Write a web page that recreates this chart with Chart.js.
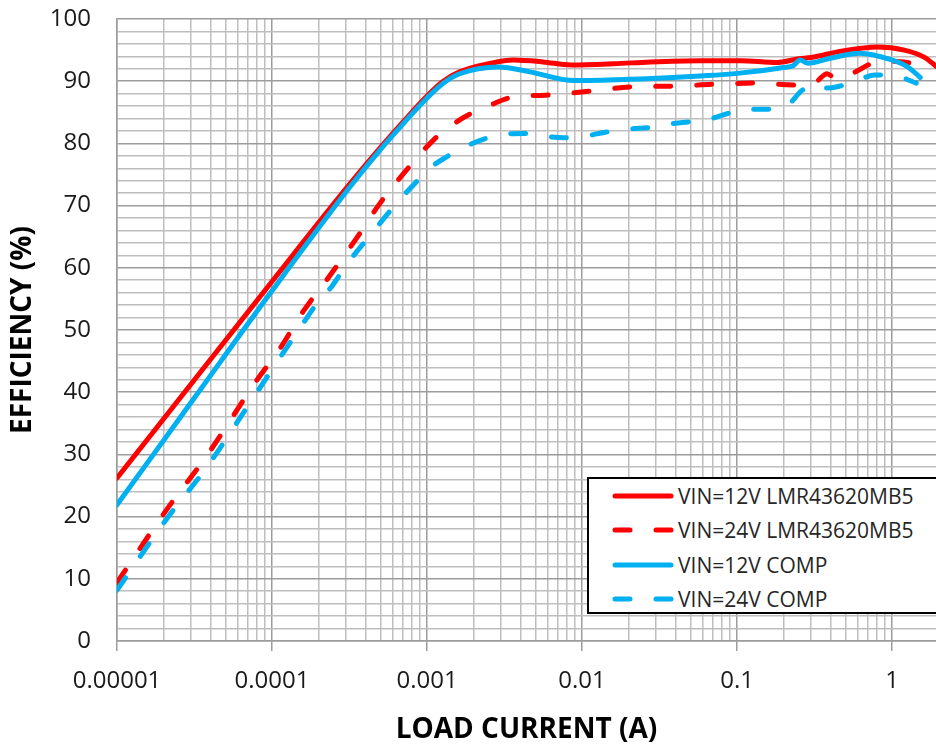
<!DOCTYPE html>
<html lang="en">
<head>
<meta charset="UTF-8">
<title>Efficiency vs Load Current</title>
<script src="https://cdn.jsdelivr.net/npm/chart.js@4"></script>
<style>
  * { box-sizing: border-box; margin: 0; padding: 0; }
  html, body { width: 936px; height: 749px; overflow: hidden; background: #fff; }
  #wrap { position: relative; width: 936px; height: 749px; }
  #legend { position: absolute; left: 587px; top: 477px; width: 370px; height: 137px;
            border: 2px solid #000; background: #fff; font-family: 'Open Sans', sans-serif;
            font-size: 21px; color: #262626; }
  #legend .row { position: absolute; left: 0; height: 30px; display: flex; align-items: center; white-space: nowrap; }
  #legend svg { margin-left: 23px; margin-right: 4px; }
</style>
</head>
<body>
<div id="wrap">
  <canvas id="chart" width="936" height="749"></canvas>
  <div id="legend"></div>
</div>
<script>
// ─── data ────────────────────────────────────────────────────────────────────
const X_MIN = 1e-5;
const X_MAX = 1.92;
const xTickLabels = ['0.00001', '0.0001', '0.001', '0.01', '0.1', '1'];
const xDecades    = [1e-5, 1e-4, 1e-3, 1e-2, 1e-1, 1];
const xMinorSteps = [1, 2, 3, 4, 5, 6, 7, 8, 9];

// VIN=12V LMR43620MB5
const lmr12I   = [1e-5, 3.16e-5, 1e-4, 3.16e-4, 5e-4, 7.1e-4, 1e-3, 1.26e-3, 1.62e-3, 2.5e-3, 3.6e-3, 5.6e-3, 8.5e-3, 0.016, 0.0275, 0.058, 0.105, 0.18, 0.25, 0.3, 0.46, 0.63, 0.8, 1.2, 1.63, 1.92];
const lmr12Eff = [26.2, 42.0, 57.8, 73.4, 79.3, 83.6, 87.6, 89.9, 91.5, 92.8, 93.4, 93.1, 92.6, 92.8, 93.1, 93.3, 93.3, 93.0, 93.6, 93.8, 94.8, 95.3, 95.5, 95.0, 93.8, 92.4];

// VIN=24V LMR43620MB5
const lmr24I   = [1e-5, 2.13e-5, 3.8e-5, 7.76e-5, 1.13e-4, 1.58e-4, 2.37e-4, 3.43e-4, 4.98e-4, 7.53e-4, 1.16e-3, 1.52e-3, 1.89e-3, 2.59e-3, 3.38e-3, 6.22e-3, 0.0114, 0.021, 0.0386, 0.07, 0.133, 0.23, 0.318, 0.381, 0.429, 0.569, 0.733, 1.0, 1.47];
const lmr24Eff = [9.4, 21.4, 29.8, 41.5, 47.1, 52.9, 58.8, 64.4, 70.4, 76.0, 81.1, 83.3, 84.7, 86.2, 87.3, 87.8, 88.4, 89.1, 89.2, 89.5, 89.7, 89.4, 89.8, 91.2, 90.5, 91.4, 92.8, 93.2, 92.8];

// VIN=12V COMP
const comp12I   = [1e-5, 3.16e-5, 1e-4, 3.16e-4, 5e-4, 7.1e-4, 1e-3, 1.26e-3, 1.62e-3, 2.9e-3, 4.6e-3, 8.9e-3, 0.02, 0.0386, 0.104, 0.2, 0.23, 0.255, 0.287, 0.4, 0.62, 0.97, 1.26, 1.52];
const comp12Eff = [21.9, 39.1, 56.3, 72.9, 79.0, 83.3, 87.3, 89.6, 91.2, 92.3, 91.5, 90.1, 90.3, 90.6, 91.3, 92.2, 92.5, 93.4, 92.9, 93.7, 94.5, 93.5, 92.3, 90.6];

// VIN=24V COMP
const comp24I   = [1e-5, 2.13e-5, 3.81e-5, 7.76e-5, 1.58e-4, 1.98e-4, 2.43e-4, 3.03e-4, 3.6e-4, 4.5e-4, 5.5e-4, 6.7e-4, 8.37e-4, 1.04e-3, 1.33e-3, 1.81e-3, 2.33e-3, 3.24e-3, 4.16e-3, 5.94e-3, 7.66e-3, 0.0106, 0.0141, 0.0195, 0.0287, 0.0359, 0.0462, 0.0659, 0.0929, 0.116, 0.156, 0.189, 0.22, 0.262, 0.328, 0.381, 0.442, 0.604, 0.776, 1.08, 1.43];
const comp24Eff = [8.2, 19.9, 28.0, 39.5, 51.0, 54.5, 57.0, 60.5, 62.9, 65.8, 68.5, 71.0, 73.6, 76.0, 77.8, 79.6, 80.7, 81.5, 81.6, 81.1, 80.9, 81.2, 81.8, 82.3, 82.6, 83.1, 83.4, 83.9, 85.0, 85.5, 85.5, 85.6, 86.5, 88.5, 89.5, 88.9, 89.1, 90.2, 91.0, 90.8, 89.7];

const seriesLabels = ['VIN=12V LMR43620MB5', 'VIN=24V LMR43620MB5', 'VIN=12V COMP', 'VIN=24V COMP'];

// ─── styling ─────────────────────────────────────────────────────────────────
const RED  = '#ff0000';
const BLUE = '#00b0f0';
const DASH = [15, 26];
const GRID_MINOR = '#bebebe';
const GRID_MAJOR = '#9c9c9c';
const FONT = "'Open Sans', sans-serif";

const pts = (xs, ys) => xs.map((x, i) => ({ x, y: ys[i] }));

function series(label, xs, ys, color, dashed, order) {
  return {
    label,
    data: pts(xs, ys),
    borderColor: color,
    backgroundColor: color,
    borderWidth: 5,
    borderDash: dashed ? DASH : [],
    borderCapStyle: 'round',
    borderJoinStyle: 'round',
    pointRadius: 0,
    cubicInterpolationMode: 'monotone',
    fill: false,
    order,
  };
}

const datasets = [
  series(seriesLabels[0], lmr12I,  lmr12Eff,  RED,  false, 3),
  series(seriesLabels[1], lmr24I,  lmr24Eff,  RED,  true,  2),
  series(seriesLabels[2], comp12I, comp12Eff, BLUE, false, 1),
  series(seriesLabels[3], comp24I, comp24Eff, BLUE, true,  0),
];

new Chart(document.getElementById('chart'), {
  type: 'line',
  data: { datasets },
  options: {
    responsive: false,
    devicePixelRatio: 1,
    animation: false,
    layout: { padding: { top: 19, left: 0, right: 0, bottom: 0 } },
    plugins: { legend: { display: false }, tooltip: { enabled: false } },
    scales: {
      x: {
        type: 'logarithmic',
        min: X_MIN,
        max: X_MAX,
        afterBuildTicks: (scale) => {
          const ticks = [];
          xDecades.forEach(d => xMinorSteps.forEach(m => {
            const v = +(d * m).toPrecision(3);
            if (v <= X_MAX) ticks.push({ value: v, major: m === 1 });
          }));
          scale.ticks = ticks;
        },
        afterFit: (scale) => { scale.height = 108; scale.paddingRight = 0; },
        ticks: {
          autoSkip: false,
          maxRotation: 0,
          padding: 16,
          color: '#1a1a1a',
          font: { family: FONT, size: 24 },
          callback: (value, i, ticks) => ticks[i].major
            ? xTickLabels[xDecades.findIndex(d => Math.abs(Math.log10(d) - Math.log10(value)) < 1e-6)]
            : '',
        },
        grid: {
          color: (ctx) => ctx.tick && ctx.tick.major ? GRID_MAJOR : GRID_MINOR,
          lineWidth: 1.5,
          tickLength: 10,
          tickColor: (ctx) => ctx.tick && ctx.tick.major ? GRID_MAJOR : 'rgba(0,0,0,0)',
        },
        border: { color: GRID_MAJOR, width: 1.5 },
        title: {
          display: true,
          text: 'LOAD CURRENT (A)',
          color: '#000',
          font: { family: FONT, size: 28, weight: 'bold' },
          padding: { top: 0, bottom: 2 },
        },
      },
      y: {
        min: 0,
        max: 100,
        afterFit: (scale) => { scale.width = 117; scale.paddingTop = 0; scale.paddingBottom = 0; },
        ticks: {
          stepSize: 2,
          autoSkip: false,
          padding: 26,
          color: '#1a1a1a',
          font: { family: FONT, size: 24 },
          callback: (v) => v % 10 === 0 ? v : '',
        },
        grid: {
          color: (ctx) => ctx.tick && ctx.tick.value % 10 === 0 ? GRID_MAJOR : GRID_MINOR,
          lineWidth: 1.5,
          drawTicks: false,
        },
        border: { color: GRID_MAJOR, width: 1.5 },
        title: {
          display: true,
          text: 'EFFICIENCY (%)',
          color: '#000',
          font: { family: FONT, size: 28, weight: 'bold' },
          padding: { top: 6, bottom: 0 },
        },
      },
    },
  },
});

// ─── HTML legend ─────────────────────────────────────────────────────────────
const legend = document.getElementById('legend');
datasets.forEach((ds, i) => {
  const row = document.createElement('div');
  row.className = 'row';
  row.style.top = (2 + i * 34.3) + 'px';
  const dash = ds.borderDash.length ? `stroke-dasharray="${ds.borderDash.join(' ')}"` : '';
  row.innerHTML =
    `<svg width="62" height="10"><line x1="3" y1="5" x2="59" y2="5" stroke="${ds.borderColor}" stroke-width="5" stroke-linecap="round" ${dash}/></svg>` +
    `<span>${ds.label}</span>`;
  legend.appendChild(row);
});
</script>
</body>
</html>
